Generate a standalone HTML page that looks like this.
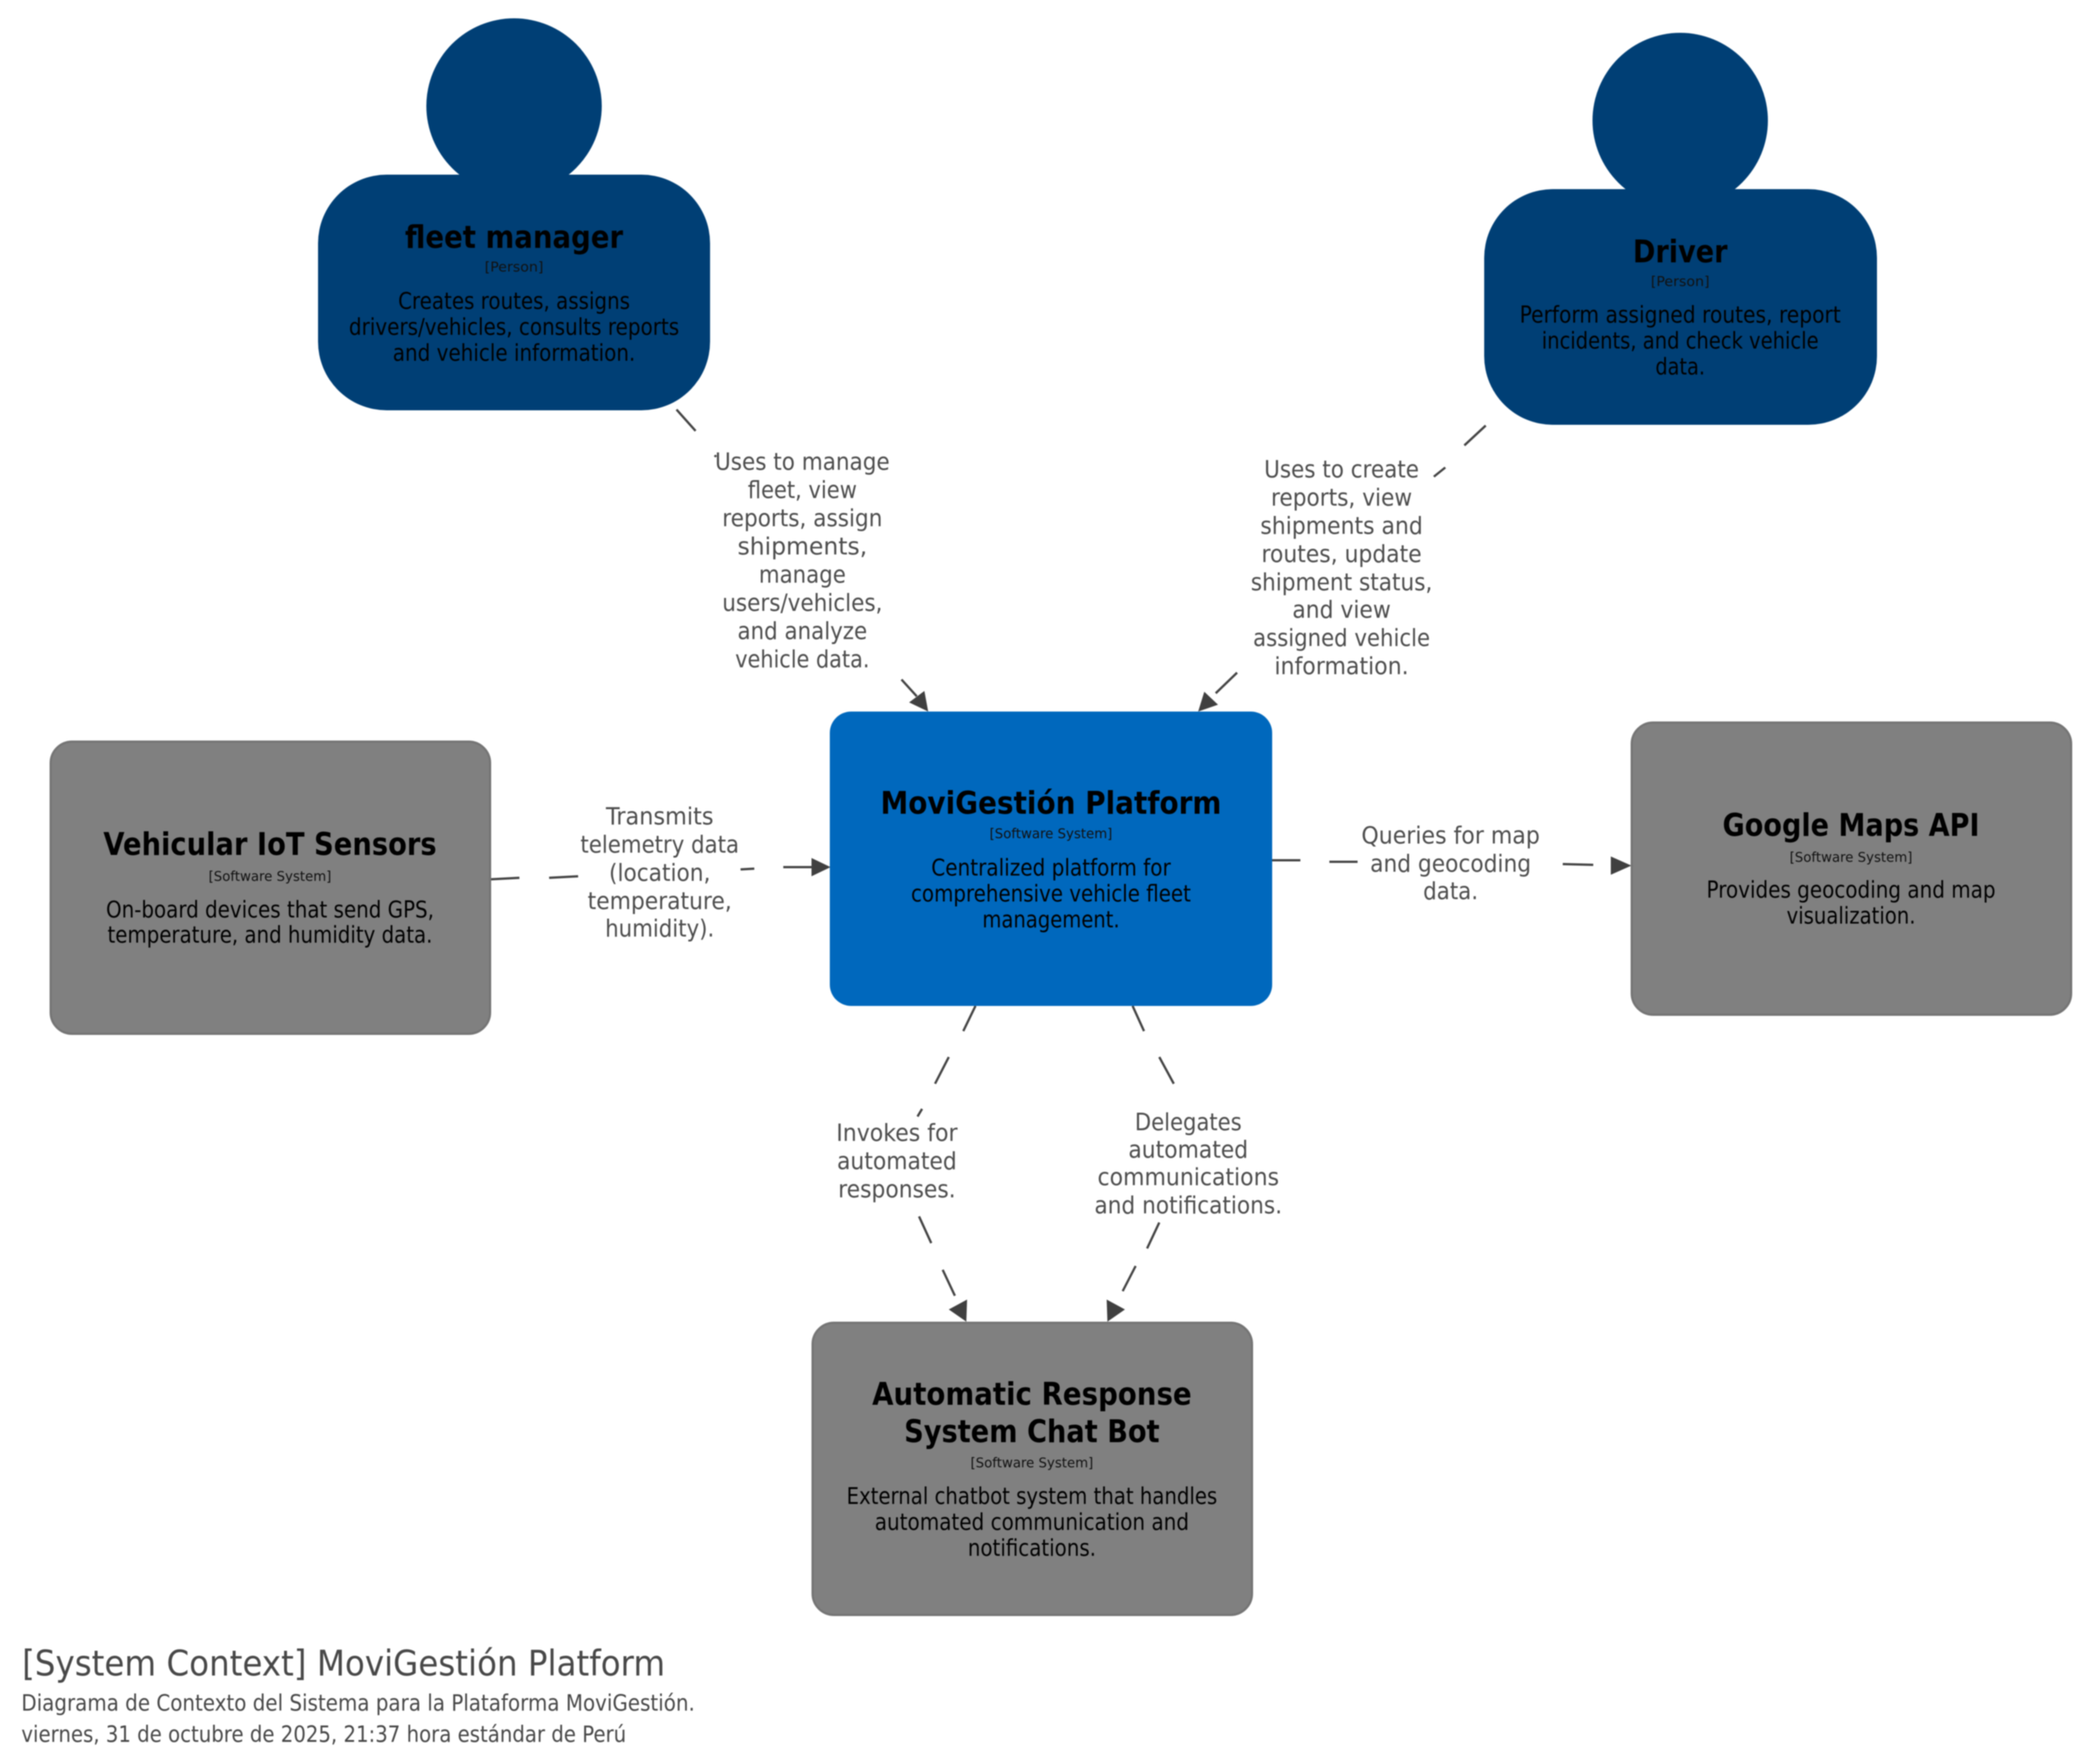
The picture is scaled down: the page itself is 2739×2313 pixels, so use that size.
<!DOCTYPE html>
<html lang="en">
<head>
<meta charset="utf-8">
<title>[System Context] MoviGestión Platform</title>
<style>
html,body{margin:0;padding:0;background:#fff;width:2739px;height:2313px;overflow:hidden}
svg{display:block;filter:blur(0.7px)}
text{font-family:"DejaVu Sans","Liberation Sans",sans-serif;text-anchor:middle}
.n{font-weight:bold;font-size:41px;fill:#000}
.s{font-size:18px;fill:#111}
.d{font-size:30px;fill:#000}
.l{font-size:31px;fill:#4d4d4d}
.t{text-anchor:start;fill:#484848}
.seg line{stroke:#444;stroke-width:3}
.arr polygon{fill:#404040}
</style>
</head>
<body>
<svg xmlns="http://www.w3.org/2000/svg" width="2739" height="2313" viewBox="0 0 2739 2313">
<rect width="2739" height="2313" fill="#fff"/>

<!-- connectors -->
<g class="seg">
<line x1="887" y1="537" x2="912" y2="565"/>
<line x1="937" y1="597" x2="939" y2="599"/>
<line x1="1182" y1="891" x2="1202" y2="913"/>
<line x1="1948" y1="558" x2="1920" y2="584"/>
<line x1="1895" y1="613" x2="1880" y2="625"/>
<line x1="1622" y1="882" x2="1594" y2="909"/>
<line x1="643" y1="1153" x2="681" y2="1151"/>
<line x1="720" y1="1151" x2="758" y2="1149"/>
<line x1="971" y1="1140" x2="989" y2="1139"/>
<line x1="1027" y1="1137" x2="1066" y2="1137"/>
<line x1="1668" y1="1128" x2="1705" y2="1128"/>
<line x1="1743" y1="1130" x2="1780" y2="1130"/>
<line x1="2049" y1="1133" x2="2089" y2="1134"/>
<line x1="1279" y1="1319" x2="1263" y2="1352"/>
<line x1="1244" y1="1386" x2="1226" y2="1421"/>
<line x1="1209" y1="1454" x2="1203" y2="1464"/>
<line x1="1205" y1="1595" x2="1221" y2="1630"/>
<line x1="1236" y1="1665" x2="1252" y2="1699"/>
<line x1="1485" y1="1319" x2="1500" y2="1352"/>
<line x1="1520" y1="1386" x2="1539" y2="1421"/>
<line x1="1520" y1="1603" x2="1504" y2="1637"/>
<line x1="1489" y1="1660" x2="1472" y2="1693"/>
</g>
<g class="arr">
<polygon points="1217,933 1192,921 1212,906"/>
<polygon points="1571,933 1597,924 1579,907"/>
<polygon points="1089,1137 1064,1125 1064,1149"/>
<polygon points="2139,1135 2112,1123 2112,1147"/>
<polygon points="1267,1733 1244,1717 1268,1704"/>
<polygon points="1452,1733 1475,1717 1451,1704"/>
</g>

<!-- fleet manager -->
<rect x="417" y="229" width="514" height="309" rx="90" ry="90" fill="#003f75"/>
<circle cx="674" cy="139" r="115" fill="#003f75"/>
<text class="n" x="674" y="325" textLength="286" lengthAdjust="spacingAndGlyphs">fleet manager</text>
<text class="s" x="674" y="356" textLength="77" lengthAdjust="spacingAndGlyphs">[Person]</text>
<text class="d" x="674" y="405" textLength="304" lengthAdjust="spacingAndGlyphs">Creates routes, assigns</text>
<text class="d" x="674" y="439" textLength="433" lengthAdjust="spacingAndGlyphs">drivers/vehicles, consults reports</text>
<text class="d" x="674" y="473" textLength="318" lengthAdjust="spacingAndGlyphs">and vehicle information.</text>

<!-- Driver -->
<rect x="1946" y="248" width="515" height="309" rx="90" ry="90" fill="#003f75"/>
<circle cx="2203" cy="158" r="115" fill="#003f75"/>
<text class="n" x="2203" y="344" textLength="124" lengthAdjust="spacingAndGlyphs">Driver</text>
<text class="s" x="2203" y="375" textLength="77" lengthAdjust="spacingAndGlyphs">[Person]</text>
<text class="d" x="2203" y="423" textLength="421" lengthAdjust="spacingAndGlyphs">Perform assigned routes, report</text>
<text class="d" x="2203" y="457" textLength="363" lengthAdjust="spacingAndGlyphs">incidents, and check vehicle</text>
<text class="d" x="2203" y="491" textLength="65" lengthAdjust="spacingAndGlyphs">data.</text>

<!-- MoviGestión Platform -->
<rect x="1088" y="933" width="580" height="386" rx="28" ry="28" fill="#0068bd"/>
<text class="n" x="1378" y="1067" textLength="447" lengthAdjust="spacingAndGlyphs">MoviGestión Platform</text>
<text class="s" x="1378" y="1099" textLength="161" lengthAdjust="spacingAndGlyphs">[Software System]</text>
<text class="d" x="1378" y="1148" textLength="314" lengthAdjust="spacingAndGlyphs">Centralized platform for</text>
<text class="d" x="1378" y="1182" textLength="367" lengthAdjust="spacingAndGlyphs">comprehensive vehicle fleet</text>
<text class="d" x="1378" y="1216" textLength="180" lengthAdjust="spacingAndGlyphs">management.</text>

<!-- Vehicular IoT Sensors -->
<rect x="66.5" y="972.5" width="576" height="383" rx="28" ry="28" fill="#808080" stroke="#757575" stroke-width="3"/>
<text class="n" x="354" y="1121" textLength="437" lengthAdjust="spacingAndGlyphs">Vehicular IoT Sensors</text>
<text class="s" x="354" y="1155" textLength="161" lengthAdjust="spacingAndGlyphs">[Software System]</text>
<text class="d" x="354" y="1203" textLength="430" lengthAdjust="spacingAndGlyphs">On-board devices that send GPS,</text>
<text class="d" x="354" y="1236" textLength="426" lengthAdjust="spacingAndGlyphs">temperature, and humidity data.</text>

<!-- Google Maps API -->
<rect x="2139.5" y="947.5" width="576" height="383" rx="28" ry="28" fill="#808080" stroke="#757575" stroke-width="3"/>
<text class="n" x="2427" y="1096" textLength="337" lengthAdjust="spacingAndGlyphs">Google Maps API</text>
<text class="s" x="2427" y="1130" textLength="161" lengthAdjust="spacingAndGlyphs">[Software System]</text>
<text class="d" x="2427" y="1177" textLength="379" lengthAdjust="spacingAndGlyphs">Provides geocoding and map</text>
<text class="d" x="2427" y="1211" textLength="169" lengthAdjust="spacingAndGlyphs">visualization.</text>

<!-- Automatic Response System Chat Bot -->
<rect x="1065.5" y="1734.5" width="576" height="383" rx="28" ry="28" fill="#808080" stroke="#757575" stroke-width="3"/>
<text class="n" x="1353" y="1842" textLength="419" lengthAdjust="spacingAndGlyphs">Automatic Response</text>
<text class="n" x="1353" y="1891" textLength="335" lengthAdjust="spacingAndGlyphs">System Chat Bot</text>
<text class="s" x="1353" y="1924" textLength="161" lengthAdjust="spacingAndGlyphs">[Software System]</text>
<text class="d" x="1353" y="1972" textLength="486" lengthAdjust="spacingAndGlyphs">External chatbot system that handles</text>
<text class="d" x="1353" y="2006" textLength="412" lengthAdjust="spacingAndGlyphs">automated communication and</text>
<text class="d" x="1353" y="2040" textLength="168" lengthAdjust="spacingAndGlyphs">notifications.</text>

<!-- edge labels -->
<text class="l" x="1052" y="616" textLength="229" lengthAdjust="spacingAndGlyphs">Uses to manage</text>
<text class="l" x="1052" y="653" textLength="143" lengthAdjust="spacingAndGlyphs">fleet, view</text>
<text class="l" x="1052" y="690" textLength="210" lengthAdjust="spacingAndGlyphs">reports, assign</text>
<text class="l" x="1052" y="727" textLength="170" lengthAdjust="spacingAndGlyphs">shipments,</text>
<text class="l" x="1052" y="764" textLength="114" lengthAdjust="spacingAndGlyphs">manage</text>
<text class="l" x="1052" y="801" textLength="210" lengthAdjust="spacingAndGlyphs">users/vehicles,</text>
<text class="l" x="1052" y="838" textLength="170" lengthAdjust="spacingAndGlyphs">and analyze</text>
<text class="l" x="1052" y="875" textLength="176" lengthAdjust="spacingAndGlyphs">vehicle data.</text>

<text class="l" x="1759" y="626" textLength="203" lengthAdjust="spacingAndGlyphs">Uses to create</text>
<text class="l" x="1759" y="663" textLength="185" lengthAdjust="spacingAndGlyphs">reports, view</text>
<text class="l" x="1759" y="700" textLength="213" lengthAdjust="spacingAndGlyphs">shipments and</text>
<text class="l" x="1759" y="737" textLength="210" lengthAdjust="spacingAndGlyphs">routes, update</text>
<text class="l" x="1759" y="774" textLength="238" lengthAdjust="spacingAndGlyphs">shipment status,</text>
<text class="l" x="1759" y="810" textLength="129" lengthAdjust="spacingAndGlyphs">and view</text>
<text class="l" x="1759" y="847" textLength="232" lengthAdjust="spacingAndGlyphs">assigned vehicle</text>
<text class="l" x="1759" y="884" textLength="176" lengthAdjust="spacingAndGlyphs">information.</text>

<text class="l" x="865" y="1081" textLength="141" lengthAdjust="spacingAndGlyphs">Transmits</text>
<text class="l" x="865" y="1118" textLength="208" lengthAdjust="spacingAndGlyphs">telemetry data</text>
<text class="l" x="865" y="1155" textLength="133" lengthAdjust="spacingAndGlyphs">(location,</text>
<text class="l" x="865" y="1192" textLength="189" lengthAdjust="spacingAndGlyphs">temperature,</text>
<text class="l" x="865" y="1228" textLength="143" lengthAdjust="spacingAndGlyphs">humidity).</text>

<text class="l" x="1902" y="1106" textLength="234" lengthAdjust="spacingAndGlyphs">Queries for map</text>
<text class="l" x="1902" y="1143" textLength="211" lengthAdjust="spacingAndGlyphs">and geocoding</text>
<text class="l" x="1902" y="1179" textLength="72" lengthAdjust="spacingAndGlyphs">data.</text>

<text class="l" x="1176" y="1496" textLength="159" lengthAdjust="spacingAndGlyphs">Invokes for</text>
<text class="l" x="1176" y="1533" textLength="157" lengthAdjust="spacingAndGlyphs">automated</text>
<text class="l" x="1176" y="1570" textLength="154" lengthAdjust="spacingAndGlyphs">responses.</text>

<text class="l" x="1558" y="1482" textLength="140" lengthAdjust="spacingAndGlyphs">Delegates</text>
<text class="l" x="1558" y="1518" textLength="157" lengthAdjust="spacingAndGlyphs">automated</text>
<text class="l" x="1558" y="1554" textLength="238" lengthAdjust="spacingAndGlyphs">communications</text>
<text class="l" x="1558" y="1591" textLength="246" lengthAdjust="spacingAndGlyphs">and notifications.</text>

<!-- title -->
<text class="t" x="29" y="2197" font-size="46" textLength="843" lengthAdjust="spacingAndGlyphs">[System Context] MoviGestión Platform</text>
<text class="t" x="28" y="2243" font-size="29" textLength="883" lengthAdjust="spacingAndGlyphs">Diagrama de Contexto del Sistema para la Plataforma MoviGestión.</text>
<text class="t" x="28" y="2284" font-size="29" textLength="793" lengthAdjust="spacingAndGlyphs">viernes, 31 de octubre de 2025, 21:37 hora estándar de Perú</text>
</svg>
</body>
</html>
